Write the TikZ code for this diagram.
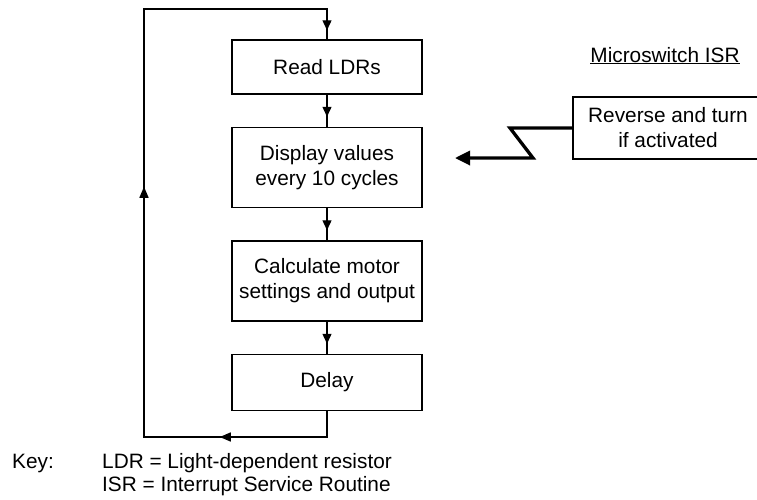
\documentclass[tikz,border=0pt]{standalone}
\usepackage{fontspec}
\setmainfont{Liberation Sans}
\usetikzlibrary{positioning, arrows.meta, decorations.markings}

\begin{document}
\begin{tikzpicture}[x=1pt, y=-1pt, node distance=32pt,
  font=\fontsize{20.8}{25}\selectfont]
% Define styles
\tikzstyle{task}=[rectangle, draw, line width=1.5pt, minimum width=190pt, minimum height=54pt, align=center, fill=white]
\tikzstyle{tall}=[task, minimum height=80pt]
\tikzstyle{flow}=[line width=1.4pt, postaction={decorate}]
\tikzstyle{zap}=[line width=3.3pt, -{Triangle[length=15pt,width=14pt]}]
\useasboundingbox (0,0) rectangle (757,499);
\clip (0,0) rectangle (757,499);
% Place nodes
\node[task] (read) at (327,67) {Read LDRs};
\node[tall, below=of read] (display) {Display values\\every 10 cycles};
\node[tall, below=of display] (calc) {Calculate motor\\settings and output};
\node[task, minimum height=56pt, below=of calc] (delay) {Delay};
\node[tall, minimum height=62pt] (isr) at (668,128) {Reverse and turn\\if activated};
\node[anchor=base] (isrtitle) at (665,62) {\underline{Microswitch ISR}};
\node[anchor=base west, inner sep=0pt] (key) at (12,468) {Key:};
\node[anchor=base west, inner sep=0pt] (ldrkey) at (102,468) {LDR = Light-dependent resistor};
\node[anchor=base west, inner sep=0pt] (isrkey) at (102,491) {ISR = Interrupt Service Routine};
% Loop corners and interrupt path
\coordinate (loopbl) at (144,437);
\coordinate (looptl) at (144,9);
\coordinate (zig1) at (510,128);
\coordinate (zig2) at (533,158);
\coordinate (intr) at (455,158);
% Draw arrows
\draw[flow, decoration={markings, mark=at position -10pt with {\arrow{Triangle[length=10pt,width=9pt]}}}] (read) -- (display);
\draw[flow, decoration={markings, mark=at position -10pt with {\arrow{Triangle[length=10pt,width=9pt]}}}] (display) -- (calc);
\draw[flow, decoration={markings, mark=at position -10pt with {\arrow{Triangle[length=10pt,width=9pt]}}}] (calc) -- (delay);
\draw[flow, decoration={markings,
    mark=at position 133pt with {\arrow{Triangle[length=11pt,width=9pt]}},
    mark=at position 459pt with {\arrow{Triangle[length=11pt,width=9pt]}},
    mark=at position -9pt with {\arrow{Triangle[length=10pt,width=9pt]}}}]
  (delay.south) |- (loopbl) -- (looptl) -| (read.north);
\draw[zap] (isr.west) -- (zig1) -- (zig2) -- (intr);
\end{tikzpicture}
\end{document}
